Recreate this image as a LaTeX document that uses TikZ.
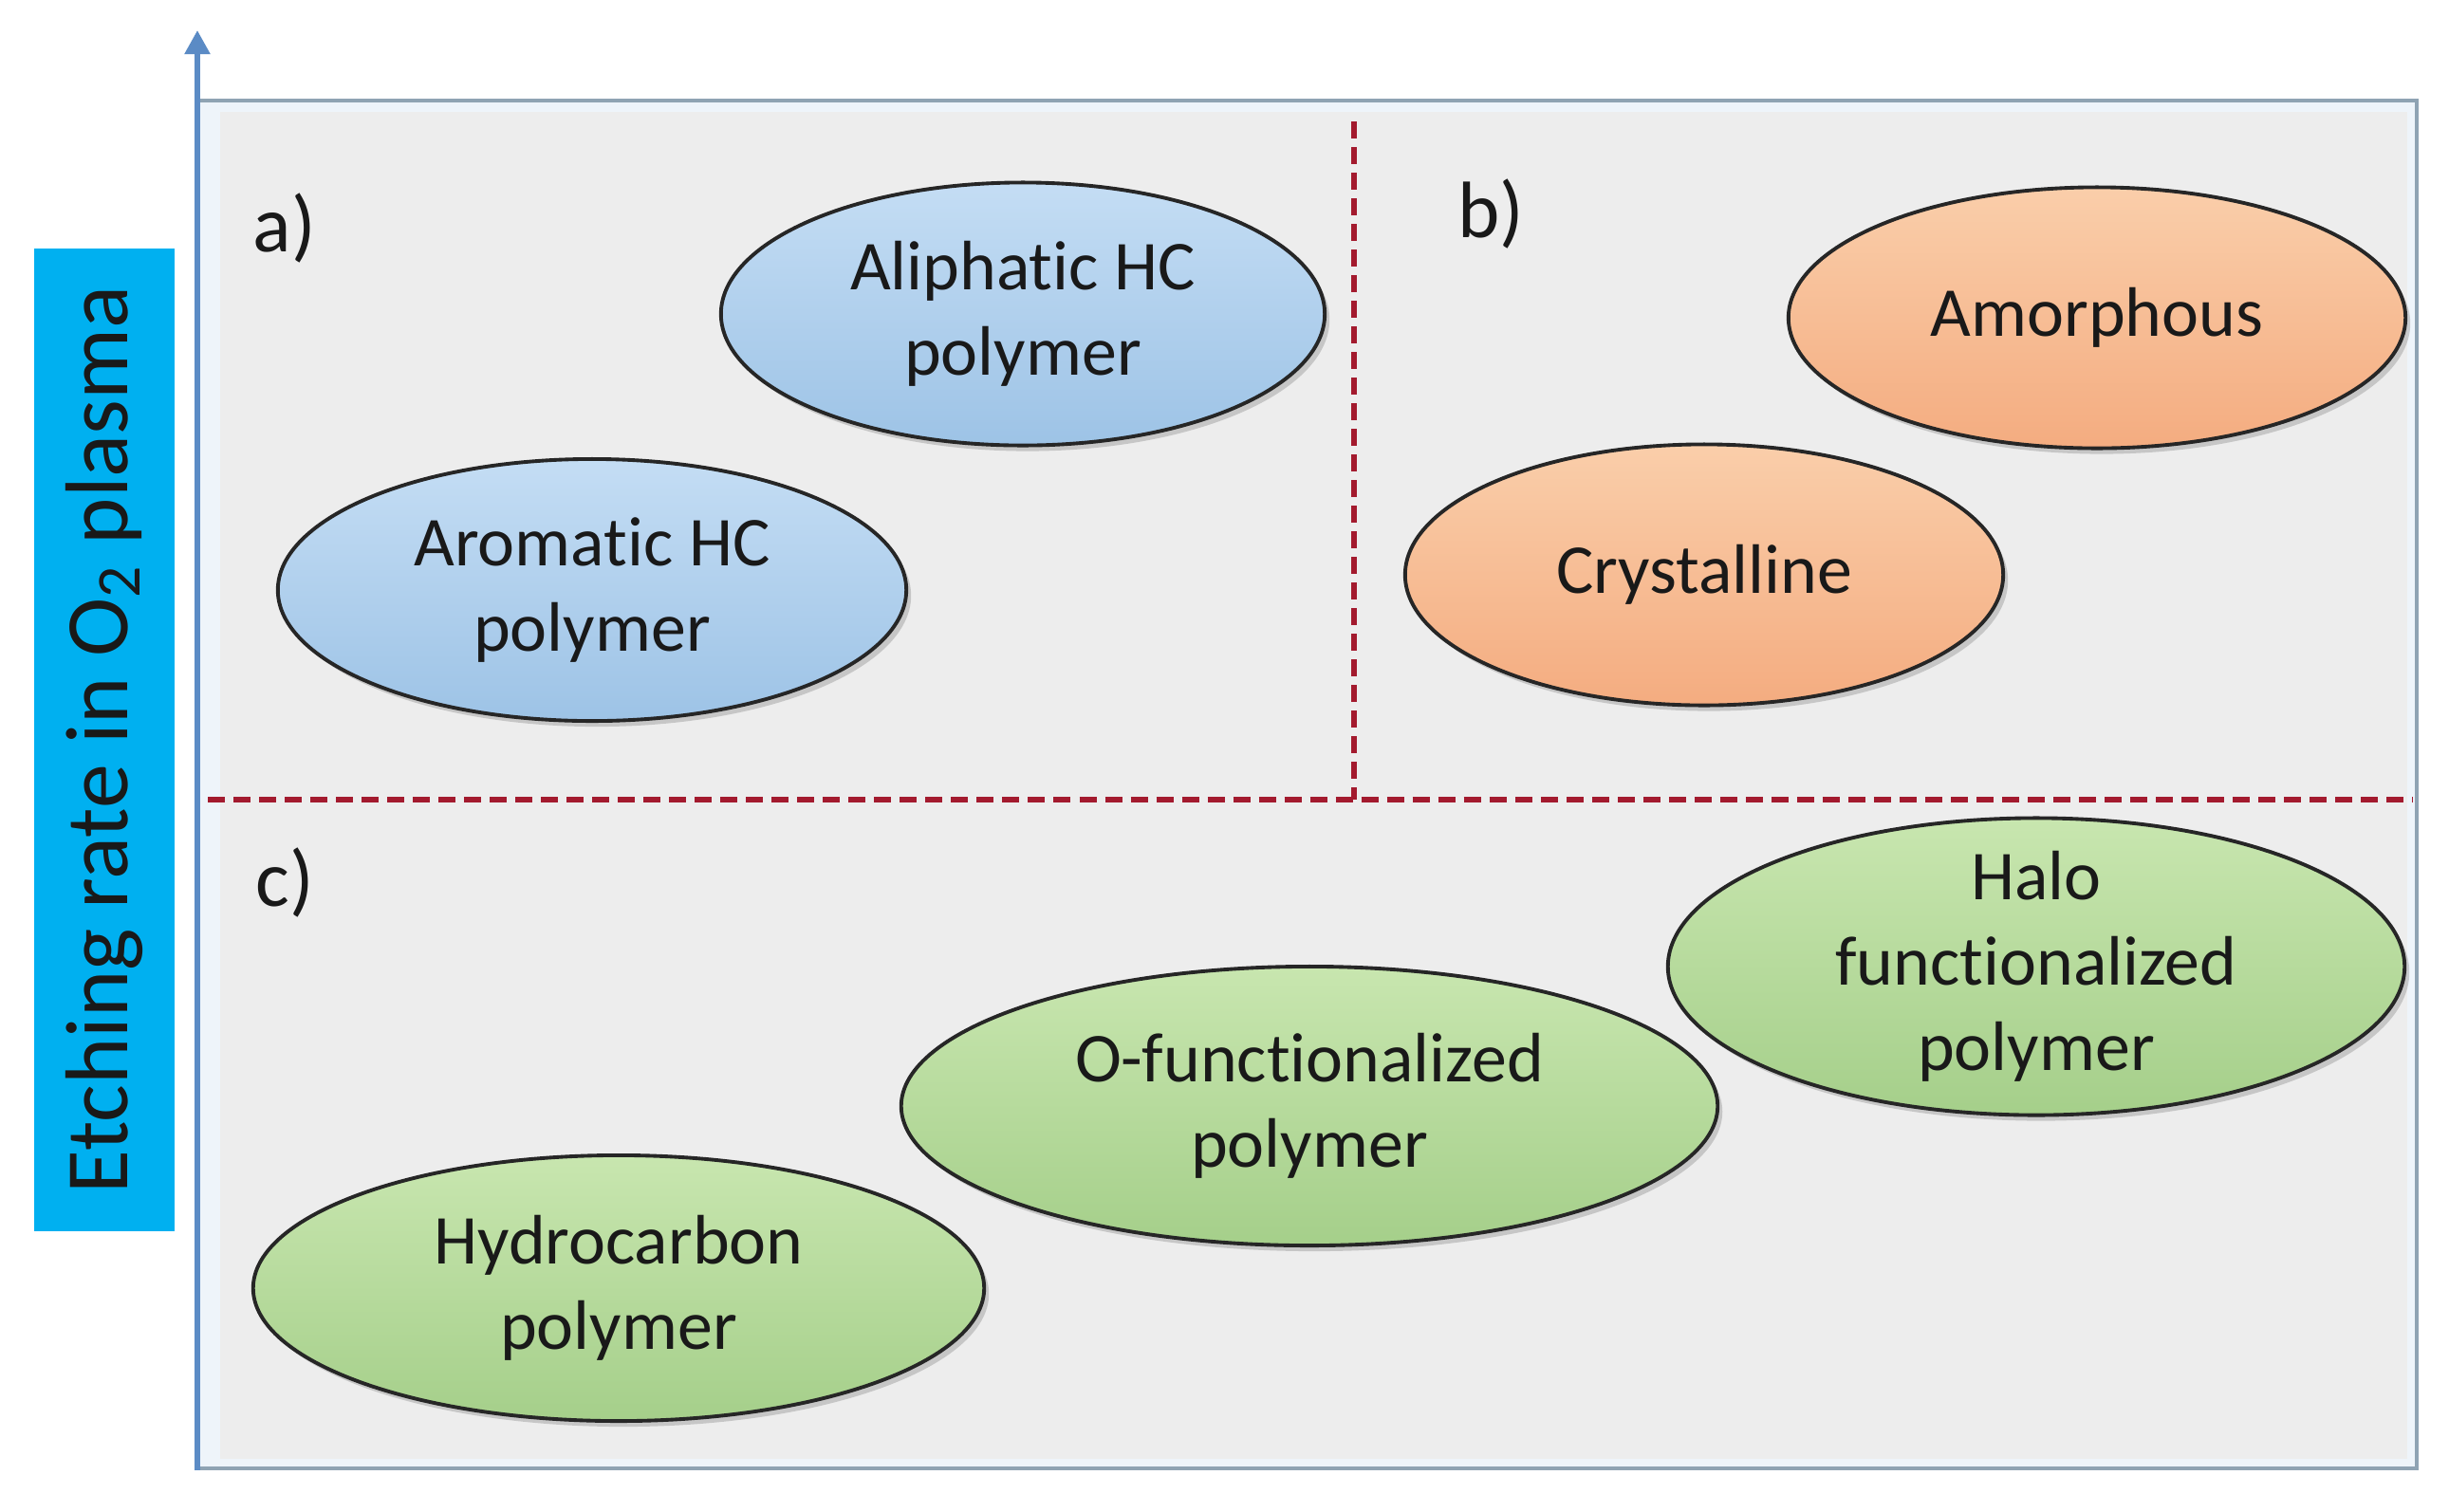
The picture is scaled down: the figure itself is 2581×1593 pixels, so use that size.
\documentclass[tikz,border=0pt]{standalone}
\usepackage{fontspec}
\setmainfont{Carlito}[Ligatures=NoCommon]
\usetikzlibrary{shapes.geometric, positioning, shadows, arrows.meta}
\definecolor{axisblue}{HTML}{5B8BC5}
\definecolor{frameline}{HTML}{8FA3B3}
\definecolor{framestrip}{HTML}{EEF4FA}
\definecolor{panelgray}{HTML}{EDEDED}
\definecolor{labelcyan}{HTML}{00B0F0}
\definecolor{splitred}{HTML}{A31A2E}

\begin{document}
\begin{tikzpicture}[x=0.01cm, y=-0.01cm]

        % Styles for the ellipses and labels
        \tikzstyle{blob} = [ellipse, draw=black!85, line width=1.1pt, inner sep=0pt, inner ysep=-2mm,
                            align=center, text=black!90, font=\fontsize{21}{25.6}\selectfont,
                            drop shadow={shadow xshift=0.05cm, shadow yshift=-0.06cm, opacity=0.35}]
        \tikzstyle{blueblob} = [top color={rgb,255:red,196;green,221;blue,244}, bottom color={rgb,255:red,157;green,195;blue,230}]
        \tikzstyle{orangeblob} = [top color={rgb,255:red,250;green,206;blue,170}, bottom color={rgb,255:red,244;green,172;blue,128}]
        \tikzstyle{greenblob} = [top color={rgb,255:red,200;green,230;blue,175}, bottom color={rgb,255:red,165;green,207;blue,138}]
        \tikzstyle{tag} = [font=\fontsize{24}{28}\selectfont, text=black!90, inner sep=0pt]
        \tikzstyle{split} = [draw=splitred, line width=1.6pt, dash pattern=on 0.18cm off 0.09cm]

        \useasboundingbox (0,0) rectangle (2581,1593);

        % Frame and gray panel
        \fill[framestrip] (208,106) rectangle (2547,1548);
        \draw[frameline, line width=0.9pt] (208,106) -- (2547,106) -- (2547,1548) -- (208,1548);
        \fill[panelgray] (232,118) rectangle (2537,1538);

        % Axis with arrow
        \draw[axisblue, line width=1.5pt, -{Triangle[length=0.25cm, width=0.26cm]}] (208,1550) -- (208,32);

        % Axis title
        \node[fill=labelcyan, rotate=90, minimum width=10.35cm, minimum height=1.47cm, inner sep=0pt,
              font=\fontsize{26.7}{30}\selectfont, text=black!90] (axistitle) at (110,780)
              {Etching rate in O\textsubscript{2} plasma};

        % Dividing lines
        \draw[split] (219,843) -- (2543,843);
        \draw[split] (1427,128) -- (1427,843);

        % Panel tags
        \node[tag] (taga) at (300,240) {a)};
        \node[tag] (tagb) at (1571,225) {b)};
        \node[tag] (tagc) at (300,930) {c)};

        % Panel a)
        \node[blob, blueblob, minimum width=6.36cm, minimum height=2.77cm] (aliphatic) at (1078,331) {Aliphatic HC\\polymer};
        \node[blob, blueblob, minimum width=6.62cm, minimum height=2.76cm] (aromatic) at (624,622) {Aromatic HC\\polymer};

        % Panel b)
        \node[blob, orangeblob, minimum width=6.50cm, minimum height=2.75cm] (amorphous) at (2210,335) {Amorphous};
        \node[blob, orangeblob, minimum width=6.30cm, minimum height=2.75cm] (crystalline) at (1796,606) {Crystalline};

        % Panel c)
        \node[blob, greenblob, minimum width=7.76cm, minimum height=3.13cm] (halo) at (2146,1019) {Halo\\functionalized\\polymer};
        \node[blob, greenblob, minimum width=8.60cm, minimum height=2.94cm] (ofunc) at (1380,1166) {O-functionalized\\polymer};
        \node[blob, greenblob, minimum width=7.70cm, minimum height=2.80cm] (hydrocarbon) at (652,1358) {Hydrocarbon\\polymer};

\end{tikzpicture}
\end{document}
